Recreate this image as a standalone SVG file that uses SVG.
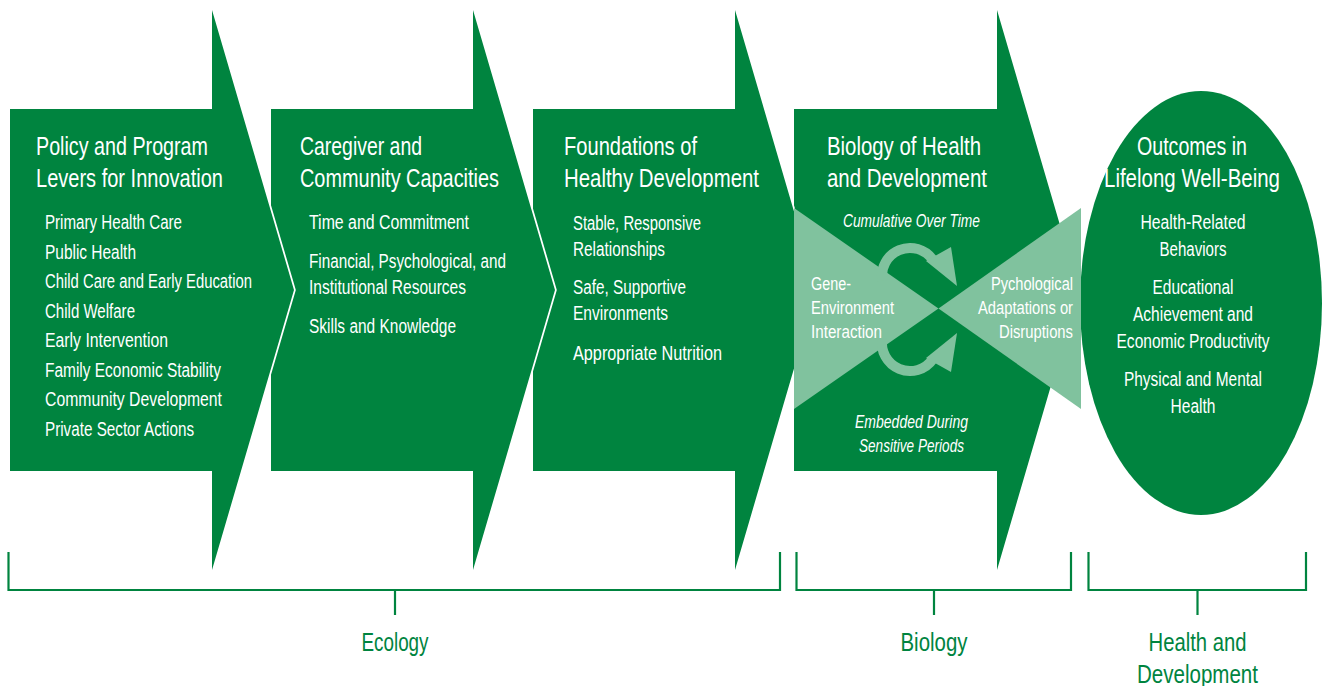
<svg xmlns="http://www.w3.org/2000/svg" width="1323" height="686" viewBox="0 0 1323 686">
<style>
.arrow{fill:#00843f}
.edge{fill:none;stroke:#fff;stroke-width:3.5;stroke-linejoin:round}
.light{fill:#80c29e}
.t{font-family:"Liberation Sans",Arial,sans-serif;fill:#fff}
.title{font-size:25px}
.item{font-size:20px}
.small{font-size:17.5px}
.ital{font-size:17.5px;font-style:italic}
.mid{text-anchor:middle}
.end{text-anchor:end}
.lab{font-family:"Liberation Sans",Arial,sans-serif;font-size:26px;fill:#00843f;text-anchor:middle}
.br{fill:none;stroke:#00843f;stroke-width:2.2}
.loop{fill:none;stroke:#80c29e;stroke-width:10}
</style>
<defs>
<path id="a1" d="M10,109 H212 V10 L294,290 L212,570 V471 H10 Z"/>
<path id="a2" d="M271,109 H473 V10 L555,290 L473,570 V471 H271 Z"/>
<path id="a3" d="M533,109 H735 V10 L817,290 L735,570 V471 H533 Z"/>
<path id="a4" d="M794,109 H997 V10 L1079,290 L997,570 V471 H794 Z"/>
</defs>
<rect width="1323" height="686" fill="#fff"/>

<g id="node-biology">
<use href="#a4" class="arrow"/>
</g>
<g id="node-foundations">
<use href="#a3" class="edge"/>
<use href="#a3" class="arrow"/>
</g>
<g id="node-caregiver">
<use href="#a2" class="edge"/>
<use href="#a2" class="arrow"/>
</g>
<g id="node-policy">
<use href="#a1" class="edge"/>
<use href="#a1" class="arrow"/>
</g>
<g id="node-outcomes">
<ellipse cx="1201" cy="303" rx="121" ry="212" fill="#00843f"/>
</g>

<g id="node-gene-env">
<polygon class="light" points="794,208 938.5,308.5 794,409"/>
</g>
<g id="node-psych">
<polygon class="light" points="1081,208 938.5,308.5 1081,409"/>
</g>

<g id="connectors">
<path class="loop" d="M882.4,280.9 A28,28 0 0 1 932.9,259.9"/>
<polygon class="light" points="926,261 951,247 957,286"/>
<path class="loop" d="M882.4,338.1 A28,28 0 0 0 932.9,359.1"/>
<polygon class="light" points="926,358 951,372 957,333"/>
</g>

<g id="text-policy" class="t">
<text class="title" x="36" y="155" textLength="172" lengthAdjust="spacingAndGlyphs">Policy and Program</text>
<text class="title" x="36" y="187" textLength="187" lengthAdjust="spacingAndGlyphs">Levers for Innovation</text>
<text class="item" x="45" y="229" textLength="137" lengthAdjust="spacingAndGlyphs">Primary Health Care</text>
<text class="item" x="45" y="258.5" textLength="91" lengthAdjust="spacingAndGlyphs">Public Health</text>
<text class="item" x="45" y="288" textLength="207" lengthAdjust="spacingAndGlyphs">Child Care and Early Education</text>
<text class="item" x="45" y="317.5" textLength="90" lengthAdjust="spacingAndGlyphs">Child Welfare</text>
<text class="item" x="45" y="347" textLength="123" lengthAdjust="spacingAndGlyphs">Early Intervention</text>
<text class="item" x="45" y="376.5" textLength="176" lengthAdjust="spacingAndGlyphs">Family Economic Stability</text>
<text class="item" x="45" y="406" textLength="177" lengthAdjust="spacingAndGlyphs">Community Development</text>
<text class="item" x="45" y="435.5" textLength="149" lengthAdjust="spacingAndGlyphs">Private Sector Actions</text>
</g>

<g id="text-caregiver" class="t">
<text class="title" x="300" y="155" textLength="122" lengthAdjust="spacingAndGlyphs">Caregiver and</text>
<text class="title" x="300" y="187" textLength="199" lengthAdjust="spacingAndGlyphs">Community Capacities</text>
<text class="item" x="309" y="229" textLength="160" lengthAdjust="spacingAndGlyphs">Time and Commitment</text>
<text class="item" x="309" y="268" textLength="197" lengthAdjust="spacingAndGlyphs">Financial, Psychological, and</text>
<text class="item" x="309" y="294" textLength="157" lengthAdjust="spacingAndGlyphs">Institutional Resources</text>
<text class="item" x="309" y="333" textLength="147" lengthAdjust="spacingAndGlyphs">Skills and Knowledge</text>
</g>

<g id="text-foundations" class="t">
<text class="title" x="564" y="155" textLength="133" lengthAdjust="spacingAndGlyphs">Foundations of</text>
<text class="title" x="564" y="187" textLength="195" lengthAdjust="spacingAndGlyphs">Healthy Development</text>
<text class="item" x="573" y="229.5" textLength="128" lengthAdjust="spacingAndGlyphs">Stable, Responsive</text>
<text class="item" x="573" y="255.5" textLength="92" lengthAdjust="spacingAndGlyphs">Relationships</text>
<text class="item" x="573" y="294" textLength="113" lengthAdjust="spacingAndGlyphs">Safe, Supportive</text>
<text class="item" x="573" y="320" textLength="95" lengthAdjust="spacingAndGlyphs">Environments</text>
<text class="item" x="573" y="360" textLength="149" lengthAdjust="spacingAndGlyphs">Appropriate Nutrition</text>
</g>

<g id="text-biology" class="t">
<text class="title" x="827" y="155" textLength="154" lengthAdjust="spacingAndGlyphs">Biology of Health</text>
<text class="title" x="827" y="187" textLength="160" lengthAdjust="spacingAndGlyphs">and Development</text>
<text class="ital mid" x="911.5" y="227" textLength="137" lengthAdjust="spacingAndGlyphs">Cumulative Over Time</text>
<text class="small" x="811" y="290" textLength="40" lengthAdjust="spacingAndGlyphs">Gene-</text>
<text class="small" x="811" y="314" textLength="83" lengthAdjust="spacingAndGlyphs">Environment</text>
<text class="small" x="811" y="338" textLength="71" lengthAdjust="spacingAndGlyphs">Interaction</text>
<text class="small end" x="1073" y="290" textLength="82" lengthAdjust="spacingAndGlyphs">Pychological</text>
<text class="small end" x="1073" y="314" textLength="95" lengthAdjust="spacingAndGlyphs">Adaptations or</text>
<text class="small end" x="1073" y="338" textLength="74" lengthAdjust="spacingAndGlyphs">Disruptions</text>
<text class="ital mid" x="911.5" y="428" textLength="113" lengthAdjust="spacingAndGlyphs">Embedded During</text>
<text class="ital mid" x="911.5" y="452" textLength="105" lengthAdjust="spacingAndGlyphs">Sensitive Periods</text>
</g>

<g id="text-outcomes" class="t">
<text class="title mid" x="1192" y="155" textLength="110" lengthAdjust="spacingAndGlyphs">Outcomes in</text>
<text class="title mid" x="1192" y="187" textLength="176" lengthAdjust="spacingAndGlyphs">Lifelong Well-Being</text>
<text class="item mid" x="1193" y="228.5" textLength="105" lengthAdjust="spacingAndGlyphs">Health-Related</text>
<text class="item mid" x="1193" y="255.5" textLength="67" lengthAdjust="spacingAndGlyphs">Behaviors</text>
<text class="item mid" x="1193" y="293.5" textLength="81" lengthAdjust="spacingAndGlyphs">Educational</text>
<text class="item mid" x="1193" y="320.5" textLength="120" lengthAdjust="spacingAndGlyphs">Achievement and</text>
<text class="item mid" x="1193" y="347.5" textLength="153" lengthAdjust="spacingAndGlyphs">Economic Productivity</text>
<text class="item mid" x="1193" y="386" textLength="138" lengthAdjust="spacingAndGlyphs">Physical and Mental</text>
<text class="item mid" x="1193" y="413" textLength="45" lengthAdjust="spacingAndGlyphs">Health</text>
</g>

<g id="bracket-ecology">
<path class="br" d="M8.5,552 V590 H780 V552 M395,590 V615"/>
<text class="lab" x="395" y="651" textLength="67" lengthAdjust="spacingAndGlyphs">Ecology</text>
</g>
<g id="bracket-biology">
<path class="br" d="M796.5,552 V590 H1071 V552 M934,590 V615"/>
<text class="lab" x="934" y="651" textLength="67" lengthAdjust="spacingAndGlyphs">Biology</text>
</g>
<g id="bracket-health">
<path class="br" d="M1088.5,552 V590 H1306 V552 M1197.5,590 V615"/>
<text class="lab" x="1197.5" y="651" textLength="98" lengthAdjust="spacingAndGlyphs">Health and</text>
<text class="lab" x="1197.5" y="683" textLength="121" lengthAdjust="spacingAndGlyphs">Development</text>
</g>
</svg>
